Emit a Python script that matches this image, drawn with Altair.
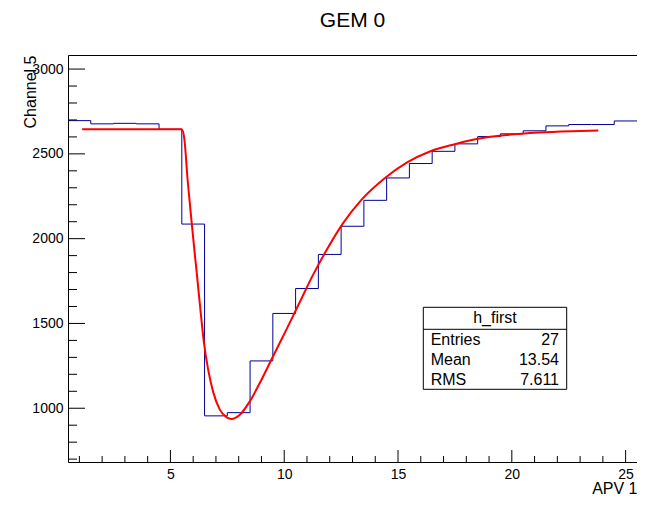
import altair as alt
import pandas as pd

FONT = "Liberation Sans"

# ---- data ----
bin_centers = list(range(1, 26))
bin_values = [2696, 2677, 2680, 2677, 2645, 2086, 955, 974, 1279, 1559,
              1706, 1907, 2073, 2226, 2358, 2443, 2515, 2559, 2602, 2618,
              2636, 2665, 2673, 2673, 2694]

fit_x = [1.12, 5.5, 5.61, 5.76, 5.93, 6.04, 6.14, 6.29, 6.47, 6.66, 6.88,
         7.17, 7.46, 7.68, 8.04, 8.48, 8.92, 9.5, 10.09, 10.68, 11.26,
         11.85, 12.58, 13.4, 14.4, 15.4, 16.4, 17.5, 18.57, 19.74,
         21.2, 22.66, 23.8]
fit_y = [2645, 2645, 2590, 2340, 2100, 1950, 1820, 1618, 1390, 1226, 1095,
         992, 948, 937, 960, 1039, 1147, 1304, 1462, 1625, 1785,
         1930, 2090, 2230, 2355, 2450, 2514, 2557, 2590, 2611,
         2626, 2634, 2638]

x_major = [5, 10, 15, 20, 25]
x_minor = [1, 2, 3, 4, 6, 7, 8, 9, 11, 12, 13, 14, 16, 17, 18, 19, 21, 22, 23, 24]
y_major = [1000, 1500, 2000, 2500, 3000]
y_minor = [700, 800, 900, 1100, 1200, 1300, 1400, 1600, 1700, 1800, 1900,
           2100, 2200, 2300, 2400, 2600, 2700, 2800, 2900]

title_text = "GEM 0"
x_title = "APV 1"
y_title = "Channel 5"
stats_name = "h_first"
stats_labels = ["Entries", "Mean", "RMS"]
stats_values = ["27", "13.54", "7.611"]

x_domain = [0.5, 25.5]
y_domain = [683, 3083]

W, H = 569, 407

# ---- tables ----
edges = [c - 0.5 for c in bin_centers] + [bin_centers[-1] + 0.5]
hist_df = pd.DataFrame({"x": edges, "y": bin_values + [bin_values[-1]]})
fit_df = pd.DataFrame({"x": fit_x, "y": fit_y})

xs = alt.Scale(domain=x_domain, nice=False, zero=False)
ys = alt.Scale(domain=y_domain, nice=False, zero=False)

x_axis = alt.Axis(values=x_major, format="d", domain=False, ticks=False, tickSize=0,
                  grid=False, labelFont=FONT, labelFontSize=14, labelColor="black",
                  labelPadding=5, labelFlush=False, title=x_title, titleFont=FONT,
                  titleFontSize=16, titleFontWeight="normal", titleColor="black",
                  titleAlign="right", titleBaseline="alphabetic", titleX=W, titleY=31.5,
                  titleAnchor="end")
y_axis = alt.Axis(values=y_major, format="d", domain=False, ticks=False, tickSize=0,
                  grid=False, labelFont=FONT, labelFontSize=14, labelColor="black",
                  labelPadding=5, labelFlush=False, title=y_title, titleFont=FONT,
                  titleFontSize=16, titleFontWeight="normal", titleColor="black",
                  titleAngle=270, titleAlign="right", titleBaseline="alphabetic",
                  titleX=-33, titleY=0, titleAnchor="end")


def X(field="x"):
    return alt.X(f"{field}:Q", scale=xs, axis=x_axis)


def Y(field="y"):
    return alt.Y(f"{field}:Q", scale=ys, axis=y_axis)


hist = alt.Chart(hist_df).mark_line(
    interpolate="step-after", color="#000099", strokeWidth=1
).encode(x=X(), y=Y())

fit = alt.Chart(fit_df).mark_line(
    interpolate="monotone", color="#ff0000", strokeWidth=2
).encode(x=X(), y=Y())

ytick_major = alt.Chart(pd.DataFrame({"y": y_major})).mark_rule(
    color="black", strokeWidth=1).encode(y=Y(), x=alt.value(0), x2=alt.value(17))
ytick_minor = alt.Chart(pd.DataFrame({"y": y_minor})).mark_rule(
    color="black", strokeWidth=1).encode(y=Y(), x=alt.value(0), x2=alt.value(9))
xtick_major = alt.Chart(pd.DataFrame({"x": x_major})).mark_rule(
    color="black", strokeWidth=1).encode(x=X(), y=alt.value(H), y2=alt.value(H - 12))
xtick_minor = alt.Chart(pd.DataFrame({"x": x_minor})).mark_rule(
    color="black", strokeWidth=1).encode(x=X(), y=alt.value(H), y2=alt.value(H - 6))

one = pd.DataFrame({"a": [0]})
bx0, bx1, by0, by1 = 355.3, 498.7, 252.3, 334.3
box = alt.Chart(one).mark_rect(fill="white", stroke="black", strokeWidth=1).encode(
    x=alt.value(bx0), x2=alt.value(bx1), y=alt.value(by0), y2=alt.value(by1))
sep = alt.Chart(one).mark_rule(color="black", strokeWidth=1).encode(
    x=alt.value(bx0), x2=alt.value(bx1), y=alt.value(274.3))
head = alt.Chart(one).mark_text(
    text=stats_name, font=FONT, fontSize=16, align="center", baseline="alphabetic",
    color="black").encode(x=alt.value(427), y=alt.value(267.7))

stat_layers = []
row_y = [290, 310, 330]
for lab, val, yy in zip(stats_labels, stats_values, row_y):
    stat_layers.append(alt.Chart(one).mark_text(
        text=lab, font=FONT, fontSize=16, align="left", baseline="alphabetic",
        color="black").encode(x=alt.value(362.7), y=alt.value(yy)))
    stat_layers.append(alt.Chart(one).mark_text(
        text=val, font=FONT, fontSize=16, align="right", baseline="alphabetic",
        color="black").encode(x=alt.value(491), y=alt.value(yy)))

chart = alt.layer(
    hist, fit, ytick_major, ytick_minor, xtick_major, xtick_minor,
    box, sep, head, *stat_layers
).properties(
    width=W, height=H,
    title=alt.TitleParams(text=title_text, font=FONT, fontSize=21, fontWeight="normal",
                          color="black", anchor="middle", baseline="alphabetic",
                          offset=7, frame="group"),
    autosize=alt.AutoSizeParams(type="none"),
    padding={"left": 60, "top": 47, "right": 0, "bottom": 35},
).configure_view(stroke="black", strokeWidth=1)

chart.save("out.html", embed_options={"renderer": "svg", "actions": False})
